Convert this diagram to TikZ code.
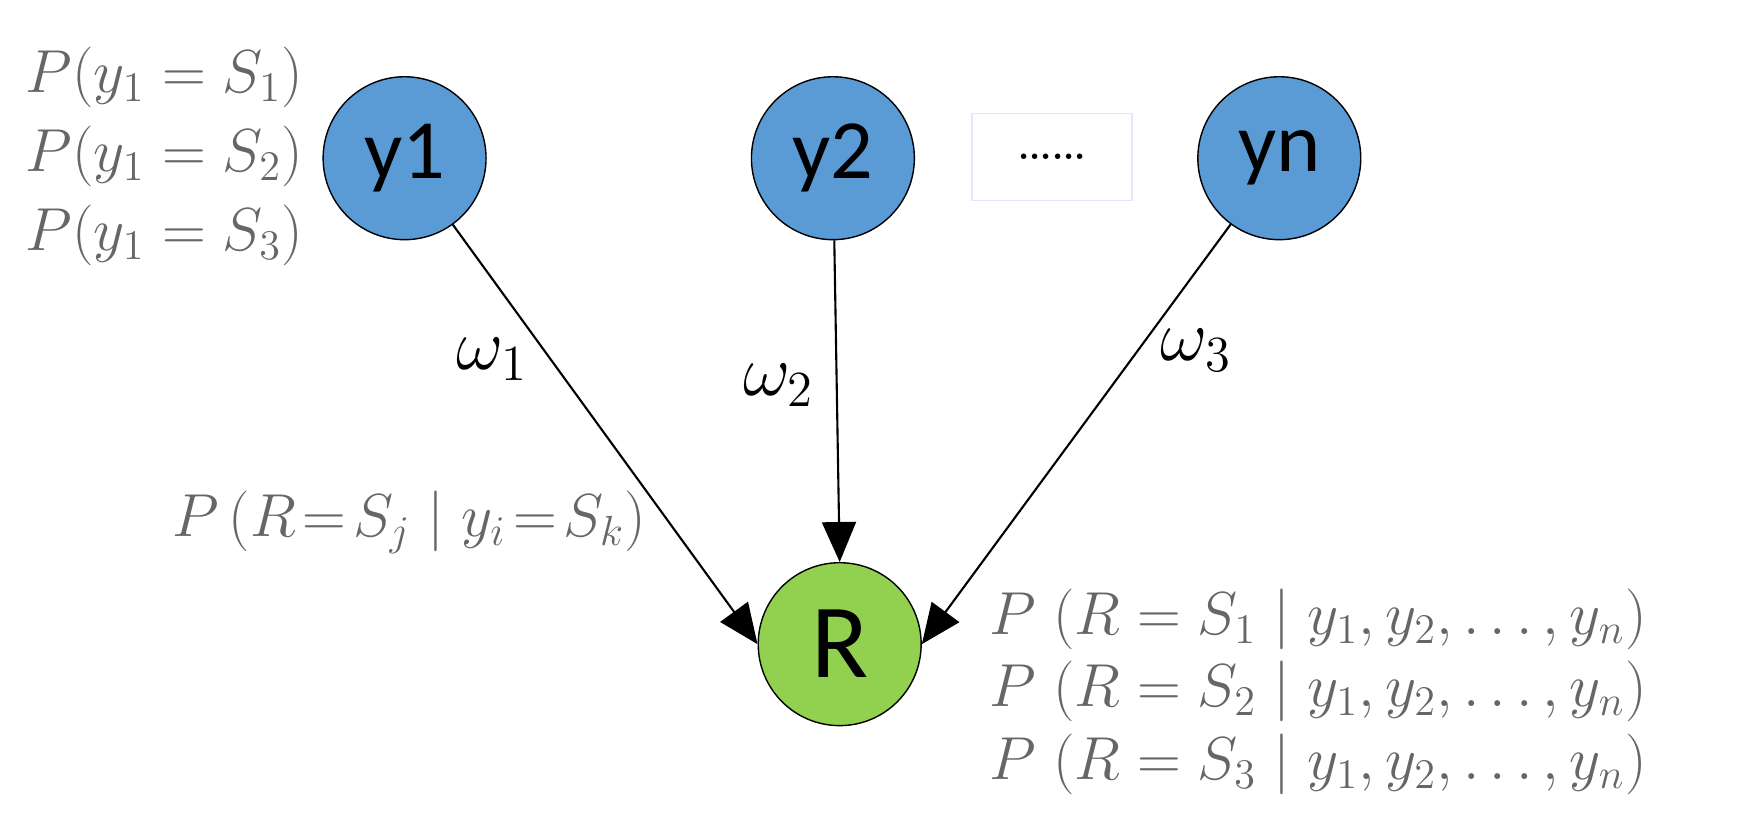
\documentclass[tikz,border=0pt]{standalone}
\usepackage{amsmath,amssymb}
\usepackage{xcolor}
\usepackage{fontspec}
\setsansfont{Carlito}
\usetikzlibrary{arrows.meta,positioning}

\begin{document}
\begin{tikzpicture}[
  x=0.0113cm, y=-0.0113cm,
  varnode/.style={draw, circle, minimum size=1.63cm, inner sep=0pt, font=\sffamily\fontsize{24}{28}\selectfont},
  resnode/.style={draw, circle, minimum size=1.63cm, inner sep=0pt, font=\sffamily\fontsize{30}{34}\selectfont},
  prob/.style={text=gray!80!black, font=\fontsize{17}{20}\selectfont, inner sep=1pt},
  wlabel/.style={font=\fontsize{20}{24}\selectfont},
  flow/.style={-{Triangle[length=4mm, width=3.4mm]}, semithick}
]
\useasboundingbox (0,0) rectangle (1560,730);
\definecolor{nodeblue}{RGB}{91,155,213}
\definecolor{nodegreen}{RGB}{146,208,80}

\node[varnode, fill=nodeblue] (y1) at (358,140) {y1};
\node[varnode, fill=nodeblue] (y2) at (737,140) {y2};
\node[varnode, fill=nodeblue] (yn) at (1132,140) {yn};
\node[draw=blue!10, minimum width=1.6cm, minimum height=0.87cm, font=\bfseries] (dots) at (931,139) {......};
\node[resnode, fill=nodegreen] (R) at (743,570) {R};

% marginal probabilities of y1
\node[prob, anchor=east] (p1) at (272,68) {$P(y_1 = S_1)$};
\node[prob, anchor=east] (p2) at (272,138) {$P(y_1 = S_2)$};
\node[prob, anchor=east] (p3) at (272,208) {$P(y_1 = S_3)$};

\draw[flow] (y1) -- (R.west) node[wlabel, pos=0.32, left=1mm] (w1) {$\omega_1$};
\draw[flow] (y2) -- (R.north) node[wlabel, pos=0.45, left=1mm] (w2) {$\omega_2$};
\draw[flow] (yn) -- (R.east) node[wlabel, pos=0.3, right=1mm] (w3) {$\omega_3$};

\node[prob] (cond) at (362,462) {$P\,(R\!=\!S_j \mid y_i\!=\!S_k)$};

% posterior of R
\node[prob, anchor=west] (q1) at (872,548) {$P\;(R = S_1 \mid y_1, y_2, \ldots, y_n)$};
\node[prob, anchor=west] (q2) at (872,612) {$P\;(R = S_2 \mid y_1, y_2, \ldots, y_n)$};
\node[prob, anchor=west] (q3) at (872,676) {$P\;(R = S_3 \mid y_1, y_2, \ldots, y_n)$};
\end{tikzpicture}
\end{document}
